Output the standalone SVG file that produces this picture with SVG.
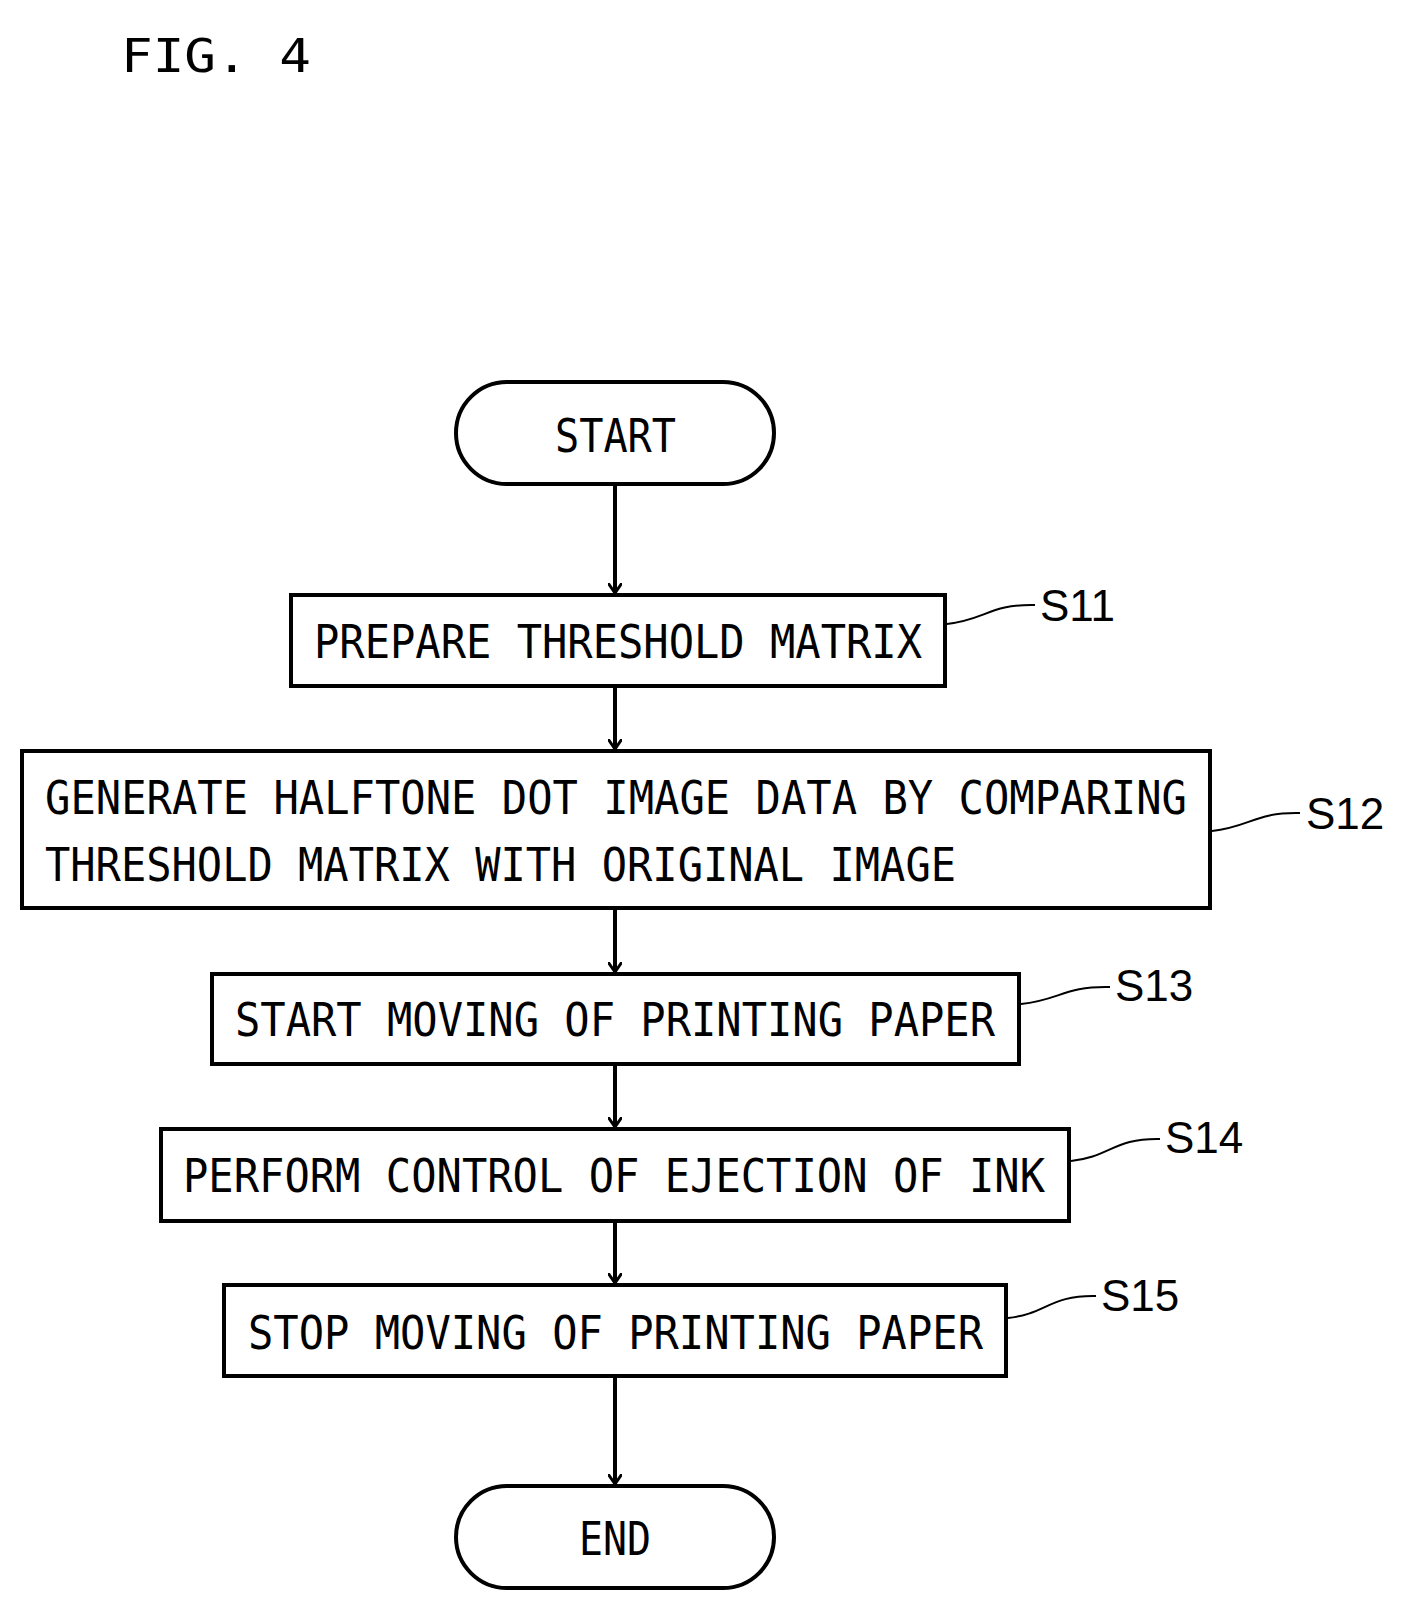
<svg xmlns="http://www.w3.org/2000/svg" width="1424" height="1618" viewBox="0 0 1424 1618">
<style>
.b{fill:#fff;stroke:#000;stroke-width:4}
.t{font-family:"DejaVu Sans Mono","Liberation Mono",monospace;font-size:46px;fill:#000}
.l{font-family:"Liberation Sans",Arial,sans-serif;font-size:44px;fill:#000}
.c{fill:none;stroke:#000;stroke-width:4}
.ld{fill:none;stroke:#000;stroke-width:2}
</style>
<defs><marker id="a" markerWidth="12" markerHeight="14" refX="10" refY="7" orient="auto" markerUnits="userSpaceOnUse"><path d="M0,0 L10,7 L0,14" fill="none" stroke="#000" stroke-width="3"/></marker></defs>
<rect width="1424" height="1618" fill="#fff"/>
<text class="t" x="121" y="72" font-size="64" textLength="190" lengthAdjust="spacingAndGlyphs">FIG. 4</text>
<g id="connectors">
<path class="c" d="M615 484V593" marker-end="url(#a)"/>
<path class="c" d="M615 686V749" marker-end="url(#a)"/>
<path class="c" d="M615 908V972" marker-end="url(#a)"/>
<path class="c" d="M615 1064V1127" marker-end="url(#a)"/>
<path class="c" d="M615 1221V1283" marker-end="url(#a)"/>
<path class="c" d="M615 1376V1484" marker-end="url(#a)"/>
<path class="ld" d="M947 624C985 620 990 604 1035 605"/>
<path class="ld" d="M1212 831C1250 827 1255 812 1300 813"/>
<path class="ld" d="M1021 1004C1060 1000 1064 986 1110 987"/>
<path class="ld" d="M1071 1161C1110 1157 1114 1138 1160 1139"/>
<path class="ld" d="M1008 1318C1046 1314 1050 1295 1096 1296"/>
</g>
<g id="start"><rect class="b" x="456" y="382" width="318" height="102" rx="51"/><text class="t" x="555" y="452" textLength="121" lengthAdjust="spacingAndGlyphs">START</text></g>
<g id="s11"><rect class="b" x="291" y="595" width="654" height="91"/><text class="t" x="314" y="658" textLength="608" lengthAdjust="spacingAndGlyphs">PREPARE THRESHOLD MATRIX</text><text class="l" x="1040" y="621">S11</text></g>
<g id="s12"><rect class="b" x="22" y="751" width="1188" height="157"/><text class="t" x="45" y="814" textLength="1142" lengthAdjust="spacingAndGlyphs">GENERATE HALFTONE DOT IMAGE DATA BY COMPARING</text><text class="t" x="45" y="881" textLength="911" lengthAdjust="spacingAndGlyphs">THRESHOLD MATRIX WITH ORIGINAL IMAGE</text><text class="l" x="1306" y="829">S12</text></g>
<g id="s13"><rect class="b" x="212" y="974" width="807" height="90"/><text class="t" x="235" y="1036" textLength="760" lengthAdjust="spacingAndGlyphs">START MOVING OF PRINTING PAPER</text><text class="l" x="1115" y="1001">S13</text></g>
<g id="s14"><rect class="b" x="161" y="1129" width="908" height="92"/><text class="t" x="183" y="1192" textLength="862" lengthAdjust="spacingAndGlyphs">PERFORM CONTROL OF EJECTION OF INK</text><text class="l" x="1165" y="1153">S14</text></g>
<g id="s15"><rect class="b" x="224" y="1285" width="782" height="91"/><text class="t" x="248" y="1349" textLength="735" lengthAdjust="spacingAndGlyphs">STOP MOVING OF PRINTING PAPER</text><text class="l" x="1101" y="1311">S15</text></g>
<g id="end"><rect class="b" x="456" y="1486" width="318" height="102" rx="51"/><text class="t" x="579" y="1555" textLength="72" lengthAdjust="spacingAndGlyphs">END</text></g>
</svg>
